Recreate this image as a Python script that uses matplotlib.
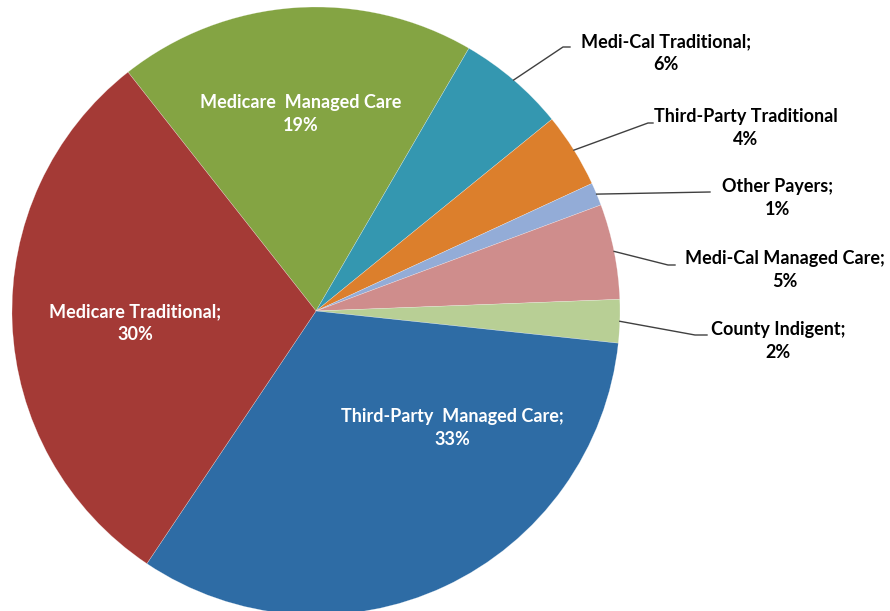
"""Payer mix pie chart."""
import numpy as np
import matplotlib
matplotlib.use("Agg")
import matplotlib.pyplot as plt

plt.rcParams['font.family'] = ['Lato', 'DejaVu Sans']

# data, clockwise starting from the Medicare Managed Care slice
payers = ['Medicare  Managed Care', 'Medi-Cal Traditional;',
          'Third-Party Traditional', 'Other Payers;',
          'Medi-Cal Managed Care;', 'County Indigent;',
          'Third-Party  Managed Care;', 'Medicare Traditional;']
shares = [19.0, 5.75, 3.97, 1.22, 5.06, 2.3, 32.7, 30.0]
colors = ['#84A443', '#3497B0', '#DC7F2C', '#93ACD7',
          '#CF8D8C', '#B8CF95', '#2E6CA5', '#A43A36']

W, H = 890, 611
fig = plt.figure(figsize=(W / 100, H / 100), dpi=100)
ax = fig.add_axes([0, 0, 1, 1])

cx, cy, r = 316, H - 311, 304
wedges, _ = ax.pie(shares, colors=colors, startangle=128.2, counterclock=False,
                   center=(cx, cy), radius=r,
                   wedgeprops=dict(edgecolor='#ffffff80', linewidth=0.3))
ax.set_xlim(0, W)
ax.set_ylim(0, H)
ax.set_aspect('equal')
ax.axis('off')

total = sum(shares)
pct = [f'{round(s / total * 100):.0f}%' for s in shares]

# labels inside the big slices (pixel positions, y from top)
inside = {0: (301, 114), 6: (452, 428), 7: (135, 323)}
for i, (x, y) in inside.items():
    ax.text(x, H - y, f'{payers[i]}\n{pct[i]}', ha='center', va='center',
            color='white', fontsize=13, fontweight='bold', linespacing=1.45)

# outside labels: (knee x, knee y, end x, text center x, text center y)
outside = {
    1: (563, 47, 570, 666, 53),
    2: (648, 123, 653, 746, 128),
    3: (710, 192, 710, 778, 198),
    4: (668, 265, 675, 785, 270),
    5: (695, 335, 707, 778, 341),
}
for i, (kx, ky, ex, tx, ty) in outside.items():
    w = wedges[i]
    mid = np.deg2rad((w.theta1 + w.theta2) / 2)
    sx, sy = cx + r * np.cos(mid), cy + r * np.sin(mid)
    ax.plot([sx, kx, ex], [sy, H - ky, H - ky], color='#404040', lw=1)
    ax.text(tx, H - ty, f'{payers[i]}\n{pct[i]}', ha='center', va='center',
            color='black', fontsize=13, fontweight='bold', linespacing=1.45)

fig.savefig('out.png', dpi=100)
